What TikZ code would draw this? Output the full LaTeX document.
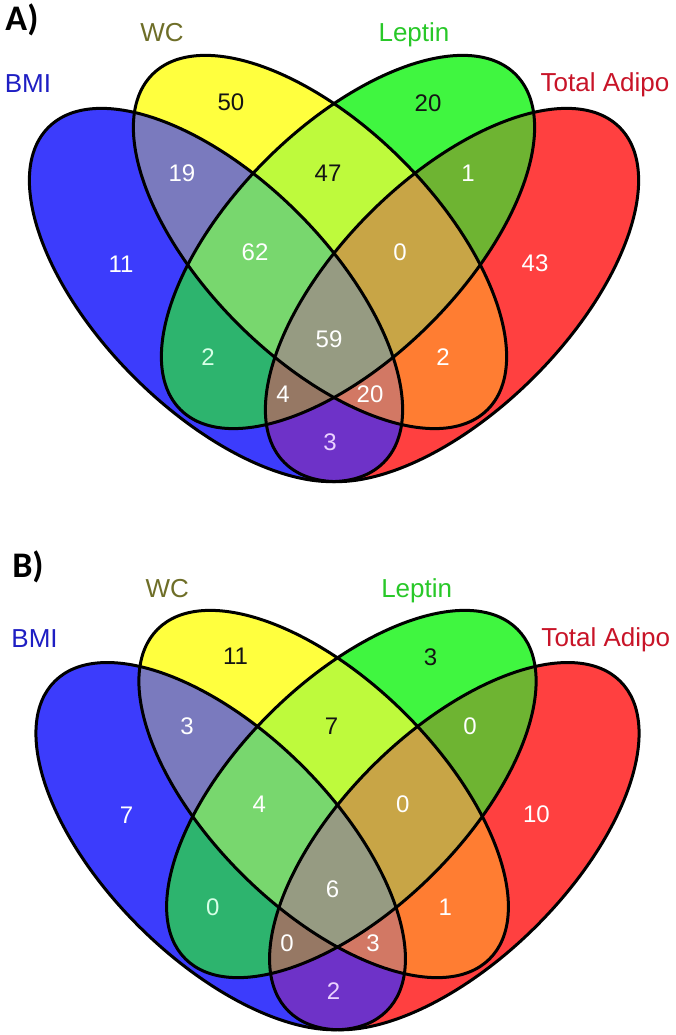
\documentclass[tikz,border=0pt]{standalone}
\usepackage{fontspec}
\setmainfont{Liberation Sans}
\newfontfamily\panelfont{Carlito}
\definecolor{cB}{RGB}{60,60,252}
\definecolor{cW}{RGB}{255,255,62}
\definecolor{cL}{RGB}{64,246,64}
\definecolor{cT}{RGB}{255,64,64}
\definecolor{cBW}{RGB}{122,122,190}
\definecolor{cBL}{RGB}{45,180,110}
\definecolor{cBT}{RGB}{110,50,200}
\definecolor{cWL}{RGB}{190,250,60}
\definecolor{cWT}{RGB}{255,125,50}
\definecolor{cLT}{RGB}{110,180,50}
\definecolor{cBWL}{RGB}{120,215,110}
\definecolor{cBWT}{RGB}{210,120,100}
\definecolor{cBLT}{RGB}{150,120,100}
\definecolor{cWLT}{RGB}{200,165,70}
\definecolor{cBWLT}{RGB}{150,155,130}
\definecolor{tB}{RGB}{30,30,195}
\definecolor{tW}{RGB}{110,110,40}
\definecolor{tL}{RGB}{40,200,40}
\definecolor{tT}{RGB}{200,20,40}
\definecolor{tDark}{RGB}{20,20,20}
\definecolor{tLav}{RGB}{235,210,255}
\definecolor{tMint}{RGB}{215,255,230}
\newcommand\EllB[1]{\path[#1,rotate around={-45:(216,740)}] (216,740) ellipse [x radius=237,y radius=116];}
\newcommand\EllW[1]{\path[#1,rotate around={-45:(320,793)}] (320,793) ellipse [x radius=237,y radius=116];}
\newcommand\EllL[1]{\path[#1,rotate around={45:(348,793)}] (348,793) ellipse [x radius=237,y radius=116];}
\newcommand\EllT[1]{\path[#1,rotate around={45:(452,740)}] (452,740) ellipse [x radius=237,y radius=116];}
\newcommand\VennBody{%
  \EllB{fill=cB}\EllW{fill=cW}\EllL{fill=cL}\EllT{fill=cT}
  \begin{scope}\EllB{clip}\EllW{fill=cBW}\end{scope}
  \begin{scope}\EllB{clip}\EllL{fill=cBL}\end{scope}
  \begin{scope}\EllB{clip}\EllT{fill=cBT}\end{scope}
  \begin{scope}\EllW{clip}\EllL{fill=cWL}\end{scope}
  \begin{scope}\EllW{clip}\EllT{fill=cWT}\end{scope}
  \begin{scope}\EllL{clip}\EllT{fill=cLT}\end{scope}
  \begin{scope}\EllB{clip}\EllW{clip}\EllL{fill=cBWL}\end{scope}
  \begin{scope}\EllB{clip}\EllW{clip}\EllT{fill=cBWT}\end{scope}
  \begin{scope}\EllB{clip}\EllL{clip}\EllT{fill=cBLT}\end{scope}
  \begin{scope}\EllW{clip}\EllL{clip}\EllT{fill=cWLT}\end{scope}
  \begin{scope}\EllB{clip}\EllW{clip}\EllL{clip}\EllT{fill=cBWLT}\end{scope}
  \EllB{outline}\EllW{outline}\EllL{outline}\EllT{outline}
}
\tikzset{
  outline/.style={draw=black,line width=3pt},
  num/.style={font=\fontsize{24}{28}\selectfont,text=white,inner sep=0pt},
  numd/.style={num,text=tDark},
  lab/.style={font=\fontsize{26}{30}\selectfont,inner sep=0pt},
  panel/.style={font=\panelfont\bfseries\fontsize{36}{40}\selectfont,text=black,inner sep=0pt}
}
\begin{document}
\begin{tikzpicture}[x=1pt,y=1pt]
\useasboundingbox (0,0) rectangle (675,1035);
% ---------- Panel A ----------
\begin{scope}
  \VennBody
  \node[lab,text=tB] (aBMI) at (28,951) {BMI};
  \node[lab,text=tW] (aWC) at (162,1002) {WC};
  \node[lab,text=tL] (aLep) at (414,1000) {Leptin};
  \node[lab,text=tT] (aTA) at (605,950) {Total Adipo};
  \node[numd] (aW) at (231,933) {50};
  \node[numd] (aL) at (428,932) {20};
  \node[num] (aBW) at (182,862) {19};
  \node[numd] (aWL) at (328,862) {47};
  \node[num] (aLT) at (468,862) {1};
  \node[num] (aB) at (121,771) {11};
  \node[num] (aBWL) at (255,783) {62};
  \node[num] (aWLT) at (400,783) {0};
  \node[num] (aT) at (535,772) {43};
  \node[num] (aAll) at (329,696) {59};
  \node[num,text=tMint] (aBL) at (208,678) {2};
  \node[num] (aWT) at (443,678) {2};
  \node[num] (aBLT) at (283,641) {4};
  \node[num] (aBWT) at (370,641) {20};
  \node[num,text=tLav] (aBT) at (330,593) {3};
\end{scope}
\node[panel] (pA) at (22,1015) {A)};
% ---------- Panel B ----------
\begin{scope}[shift={(6.84,-539.32)},xscale=0.99,yscale=0.984]
  \VennBody
  \node[lab,text=tB] (bBMI) at (28,951) {BMI};
  \node[lab,text=tW] (bWC) at (162,1002) {WC};
  \node[lab,text=tL] (bLep) at (414,1000) {Leptin};
  \node[lab,text=tT] (bTA) at (605,950) {Total Adipo};
  \node[numd] (bW) at (231,933) {11};
  \node[numd] (bL) at (428,932) {3};
  \node[num] (bBW) at (182,862) {3};
  \node[numd] (bWL) at (328,862) {7};
  \node[num] (bLT) at (468,862) {0};
  \node[num] (bB) at (121,771) {7};
  \node[num] (bBWL) at (255,783) {4};
  \node[num] (bWLT) at (400,783) {0};
  \node[num] (bT) at (535,772) {10};
  \node[num] (bAll) at (329,696) {6};
  \node[num,text=tMint] (bBL) at (208,678) {0};
  \node[num] (bWT) at (443,678) {1};
  \node[num] (bBLT) at (283,641) {0};
  \node[num] (bBWT) at (370,641) {3};
  \node[num,text=tLav] (bBT) at (330,593) {2};
\end{scope}
\node[panel] (pB) at (28,468) {B)};
\end{tikzpicture}
\end{document}
